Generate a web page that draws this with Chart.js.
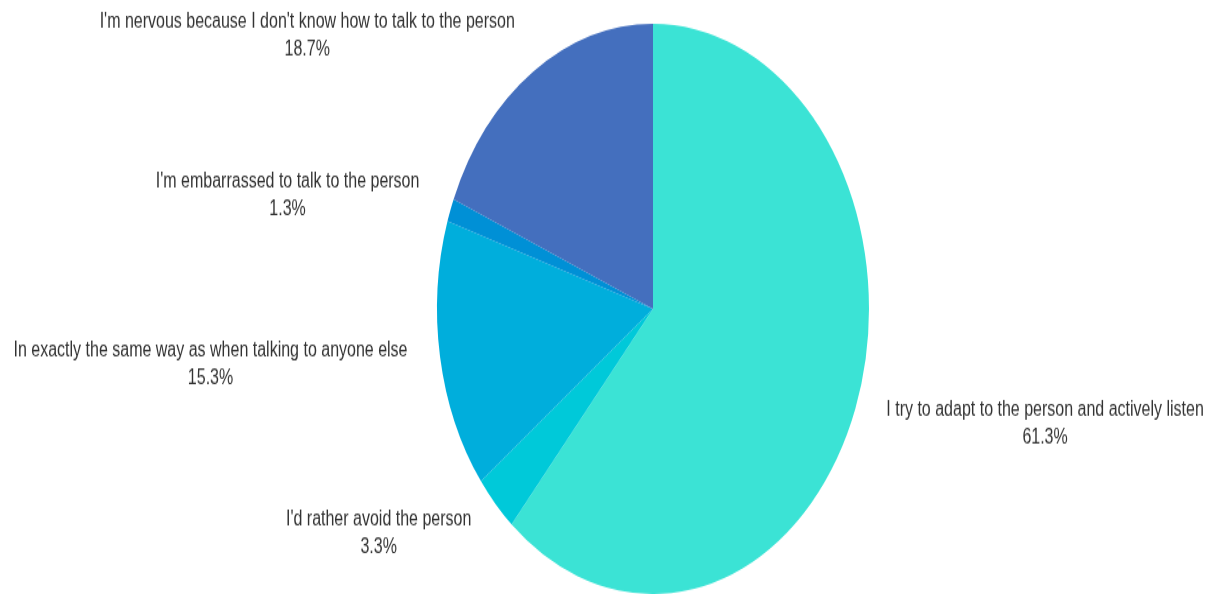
<!DOCTYPE html>
<html>
<head>
<meta charset="utf-8">
<script src="https://cdn.jsdelivr.net/npm/chart.js@4/dist/chart.umd.min.js"></script>
<style>
  html, body { margin: 0; padding: 0; background: #fff; }
  #page { width: 1221px; height: 594px; overflow: hidden; position: relative; }
  /* the pie is drawn round, then the whole box is stretched vertically */
  #wrap { position: absolute; left: 0; top: 0; width: 1221px; height: 450px; transform: scaleY(1.32); transform-origin: 0 0; }
</style>
</head>
<body>
<div id="page"><div id="wrap"><canvas id="chart-pie"></canvas></div></div>
<script>
// ---------- Data ----------
const LABELS = [
  "I try to adapt to the person and actively listen",
  "I'd rather avoid the person",
  "In exactly the same way as when talking to anyone else",
  "I'm embarrassed to talk to the person",
  "I'm nervous because I don't know how to talk to the person"
];
const VALUES = [61.3, 3.3, 15.3, 1.3, 18.7];
const COLORS = ["#3be3d5", "#00c9d9", "#00aedc", "#0090d6", "#446fbe"];

const FONT = "16px 'Liberation Sans', Arial, sans-serif";

// labels sit just outside the rim, along each slice's middle angle
const outsideLabels = {
  id: "outsideLabels",
  afterDraw(chart) {
    const ctx = chart.ctx;
    const arcs = chart.getDatasetMeta(0).data;
    ctx.save();
    ctx.font = FONT;
    ctx.fillStyle = "#333";
    ctx.textAlign = "center";
    ctx.textBaseline = "middle";
    arcs.forEach((arc, i) => {
      const { x, y, startAngle, endAngle, outerRadius } = arc.getProps(["x","y","startAngle","endAngle","outerRadius"], true);
      const mid = (startAngle + endAngle) / 2;
      const r = outerRadius + 33;
      const ax = x + Math.cos(mid) * r;
      const ay = y + Math.sin(mid) * r;
      const l1 = LABELS[i];
      const l2 = VALUES[i].toFixed(1) + "%";
      const w = Math.max(ctx.measureText(l1).width, ctx.measureText(l2).width);
      const cx = Math.cos(mid) < 0 ? ax - w / 2 : ax + w / 2;
      ctx.fillText(l1, cx, ay - 10.5);
      ctx.fillText(l2, cx, ay + 10.5);
    });
    ctx.restore();
  }
};

new Chart(document.getElementById("chart-pie"), {
  type: "pie",
  data: {
    labels: LABELS,
    datasets: [{ data: VALUES, backgroundColor: COLORS, borderWidth: 0 }]
  },
  options: {
    responsive: true,
    maintainAspectRatio: false,
    animation: false,
    layout: { padding: { top: 18, bottom: 0, left: 85, right: 0 } },
    plugins: { legend: { display: false }, tooltip: { enabled: false } }
  },
  plugins: [outsideLabels]
});
</script>
</body>
</html>
